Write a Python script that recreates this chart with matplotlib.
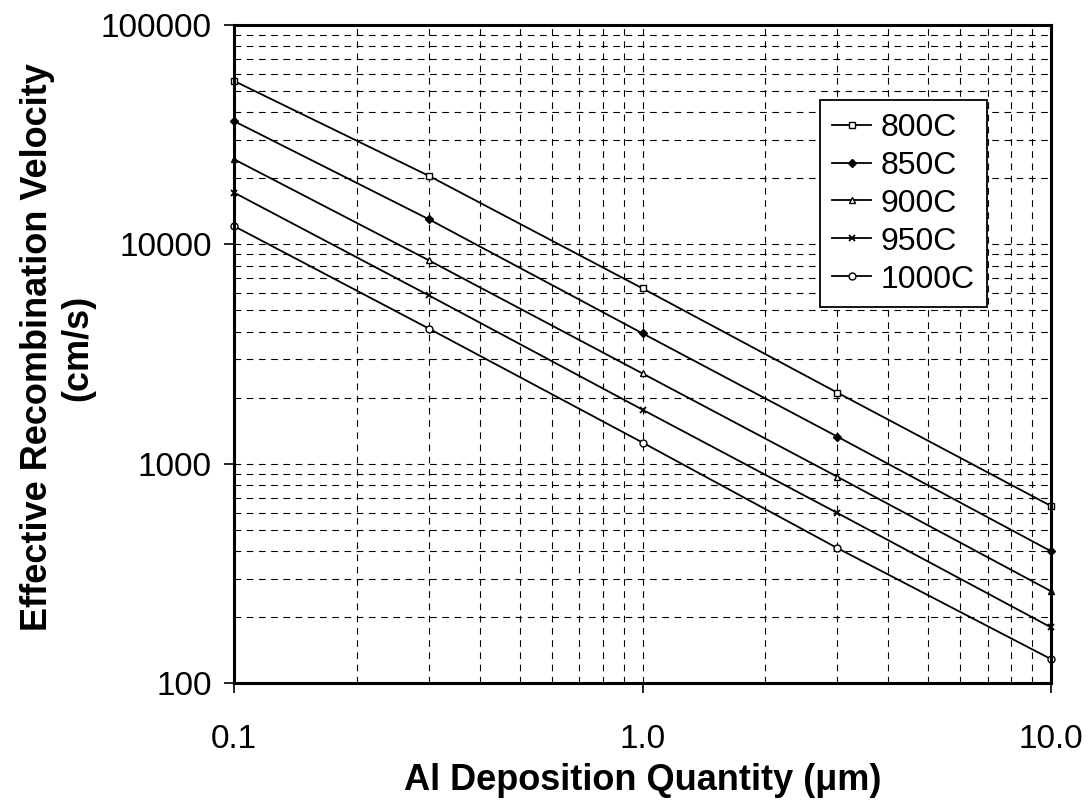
import numpy as np
import matplotlib
matplotlib.use("Agg")
import matplotlib.pyplot as plt
from matplotlib.ticker import FixedLocator, FixedFormatter, LogLocator, NullFormatter

plt.rcParams['font.family'] = ['Liberation Sans', 'DejaVu Sans']

# deposition quantity (um)
depo = [0.1, 0.3, 1.0, 3.0, 10.0]

# effective recombination velocity (cm/s)
s800 = [55500, 20500, 6300, 2110, 643]
s850 = [36400, 13000, 3930, 1330, 400]
s900 = [24400, 8450, 2580, 873, 263]
s950 = [17200, 5850, 1765, 597, 180]
s1000 = [12100, 4130, 1250, 413, 129]

labels = ["800C", "850C", "900C", "950C", "1000C"]
series = [s800, s850, s900, s950, s1000]
markers = [
    dict(marker="s", mfc="white", ms=5),
    dict(marker="D", mfc="black", ms=4),
    dict(marker="^", mfc="white", ms=5),
    dict(marker="x", mfc="black", ms=5, mew=1.3),
    dict(marker="o", mfc="white", ms=5),
]

fig = plt.figure(figsize=(10.89, 8.02), dpi=100)
ax = fig.add_axes([0.215, 0.148, 0.75, 0.821])

for lab, vals, mk in zip(labels, series, markers):
    ax.plot(depo, vals, color="black", lw=1.3, mec="black", label=lab, clip_on=False, **mk)

ax.set_xscale("log")
ax.set_yscale("log")
ax.set_xlim(0.1, 10)
ax.set_ylim(100, 100000)

ax.xaxis.set_major_locator(FixedLocator([0.1, 1.0, 10.0]))
ax.xaxis.set_major_formatter(FixedFormatter(["0.1", "1.0", "10.0"]))
ax.xaxis.set_minor_locator(LogLocator(base=10, subs=np.arange(2, 10)))
ax.xaxis.set_minor_formatter(NullFormatter())
ax.yaxis.set_major_locator(FixedLocator([100, 1000, 10000, 100000]))
ax.yaxis.set_major_formatter(FixedFormatter(["100", "1000", "10000", "100000"]))
ax.yaxis.set_minor_locator(LogLocator(base=10, subs=np.arange(2, 10)))
ax.yaxis.set_minor_formatter(NullFormatter())

ax.grid(True, which="both", color="black", ls=(0, (6, 5)), lw=0.8)
ax.tick_params(which="major", direction="out", length=7, width=1.2, labelsize=24)
ax.tick_params(which="minor", length=0)
ax.tick_params(axis="x", pad=22)
ax.tick_params(axis="y", pad=9)
for sp in ax.spines.values():
    sp.set_linewidth(2.2)

ax.set_xlabel("Al Deposition Quantity (\u03bcm)", fontsize=26, fontweight="bold", labelpad=6)
ax.set_ylabel("Effective Recombination Velocity\n(cm/s)", fontsize=26, fontweight="bold",
              linespacing=1.2)
ax.yaxis.set_label_coords(-0.17, 0.51)

leg = ax.legend(loc="upper right", bbox_to_anchor=(0.922, 0.886), fontsize=23,
                frameon=True, fancybox=False, edgecolor="black", framealpha=1,
                handlelength=1.2, handletextpad=0.3, borderpad=0.4, labelspacing=0.25,
                borderaxespad=0)
leg.get_frame().set_linewidth(1.3)

fig.savefig("out.png", dpi=100)
